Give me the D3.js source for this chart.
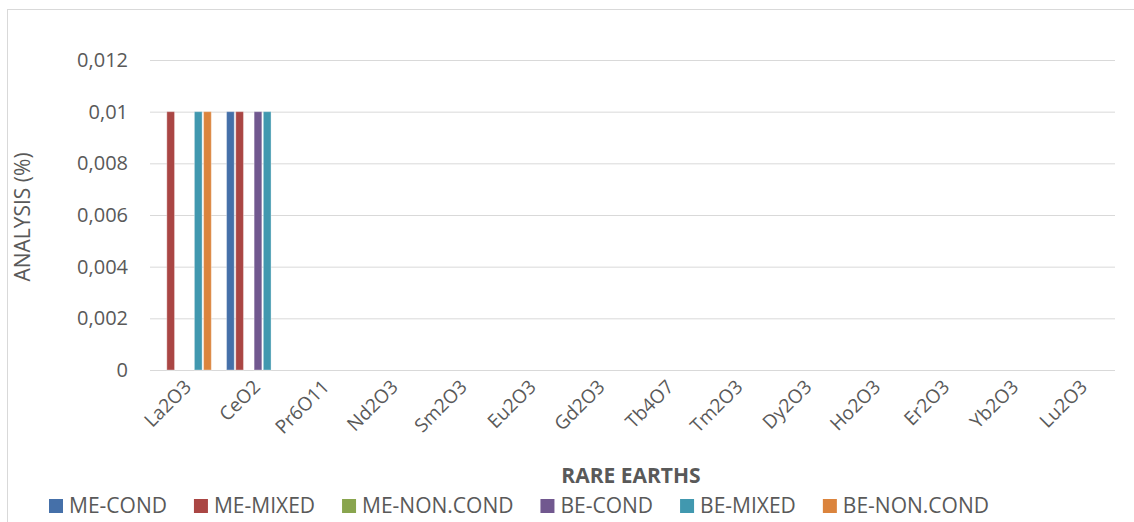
<!DOCTYPE html>
<html>
<head>
<meta charset="utf-8">
<script src="https://cdn.jsdelivr.net/npm/d3@7"></script>
<style>
  body { margin: 0; background: #fff; }
  text { font-family: "Open Sans", "Liberation Sans", sans-serif; fill: #595959; }
</style>
</head>
<body>
<div id="chart"></div>
<script>
var categories = ["La2O3", "CeO2", "Pr6O11", "Nd2O3", "Sm2O3", "Eu2O3", "Gd2O3", "Tb4O7", "Tm2O3", "Dy2O3", "Ho2O3", "Er2O3", "Yb2O3", "Lu2O3"];
var seriesNames = ["ME-COND", "ME-MIXED", "ME-NON.COND", "BE-COND", "BE-MIXED", "BE-NON.COND"];
var seriesColors = ["#4570a9", "#aa4644", "#89a54e", "#71588f", "#4198af", "#db843d"];

var meCond    = [0,    0.01, 0, 0, 0, 0, 0, 0, 0, 0, 0, 0, 0, 0];
var meMixed   = [0.01, 0.01, 0, 0, 0, 0, 0, 0, 0, 0, 0, 0, 0, 0];
var meNonCond = [0,    0,    0, 0, 0, 0, 0, 0, 0, 0, 0, 0, 0, 0];
var beCond    = [0,    0.01, 0, 0, 0, 0, 0, 0, 0, 0, 0, 0, 0, 0];
var beMixed   = [0.01, 0.01, 0, 0, 0, 0, 0, 0, 0, 0, 0, 0, 0, 0];
var beNonCond = [0.01, 0,    0, 0, 0, 0, 0, 0, 0, 0, 0, 0, 0, 0];

var yTicks = [0, 0.002, 0.004, 0.006, 0.008, 0.01, 0.012];

var allSeries = [meCond, meMixed, meNonCond, beCond, beMixed, beNonCond];

var width = 1134;
var height = 522;

var svg = d3.select("#chart").
append("svg").
attr("width", width).
attr("height", height);

// chart frame
svg.append("rect").
attr("x", 7.5).
attr("y", 9.5).
attr("width", width).
attr("height", height).
attr("fill", "none").
attr("stroke", "#d9d9d9");

var x = d3.scaleBand().domain(categories).range([150, 1115]);
var xInner = d3.scaleBand().domain(seriesNames).range([0, x.bandwidth()]).paddingInner(0.16).paddingOuter(0.83);
var y = d3.scaleLinear().domain([0, 0.012]).range([370, 60]);

// gridlines
svg.append("g").
selectAll("line").
data(yTicks).
enter().
append("line").
attr("x1", 150).
attr("x2", 1115).
attr("y1", function (d) { return y(d) + 0.5; }).
attr("y2", function (d) { return y(d) + 0.5; }).
attr("stroke", "#d9d9d9").
attr("stroke-width", 1);

var yAxis = d3.axisLeft(y).tickValues(yTicks).tickSize(0).tickPadding(0).
tickFormat(function (d) { return d === 0 ? "0" : String(+d.toFixed(3)).replace(".", ","); });

var yG = svg.append("g").
attr("transform", "translate(128,0)").
call(yAxis);
yG.select(".domain").remove();
yG.selectAll("text").
attr("font-size", "20px").
attr("fill", "#595959").
attr("font-family", "\"Open Sans\", sans-serif");

// bars
var groups = svg.append("g").
selectAll("g").
data(categories).
enter().
append("g").
attr("transform", function (d) { return "translate(" + x(d) + ",0)"; });

groups.selectAll("rect").
data(function (c, i) {
  return seriesNames.map(function (s, j) { return { name: s, value: allSeries[j][i], color: seriesColors[j] }; });
}).
enter().
append("rect").
attr("x", function (d) { return xInner(d.name); }).
attr("width", xInner.bandwidth()).
attr("y", function (d) { return y(d.value); }).
attr("height", function (d) { return y(0) - y(d.value); }).
attr("fill", function (d) { return d.color; }).
attr("stroke", "rgba(255,255,255,0.35)").
attr("stroke-width", 1);

// x axis labels
var xAxis = d3.axisBottom(x).tickSize(0).tickPadding(0);
var xG = svg.append("g").
attr("transform", "translate(0,372)").
call(xAxis);
xG.select(".domain").remove();
xG.selectAll("text").
attr("font-size", "19px").
attr("fill", "#595959").
attr("font-family", "\"Open Sans\", sans-serif").
attr("text-anchor", "end").
attr("dy", 0).
attr("y", 0).
attr("transform", "translate(8,16) rotate(-45)");

// axis titles
svg.append("text").
text("ANALYSIS (%)").
attr("font-size", "21px").
attr("text-anchor", "middle").
attr("transform", "translate(30,217) rotate(-90)");

svg.append("text").
text("RARE EARTHS").
attr("font-size", "21px").
attr("font-weight", "bold").
attr("text-anchor", "middle").
attr("x", 631).
attr("y", 483);

// legend
var legend = svg.append("g");
var lx = 49;
seriesNames.forEach(function (s, i) {
  legend.append("rect").
  attr("x", lx).
  attr("y", 499).
  attr("width", 14).
  attr("height", 14).
  attr("fill", seriesColors[i]);
  var t = legend.append("text").
  text(s).
  attr("font-size", "21px").
  attr("x", lx + 20).
  attr("y", 513);
  lx = lx + 20 + t.node().getComputedTextLength() + 27;
});
</script>
</body>
</html>
